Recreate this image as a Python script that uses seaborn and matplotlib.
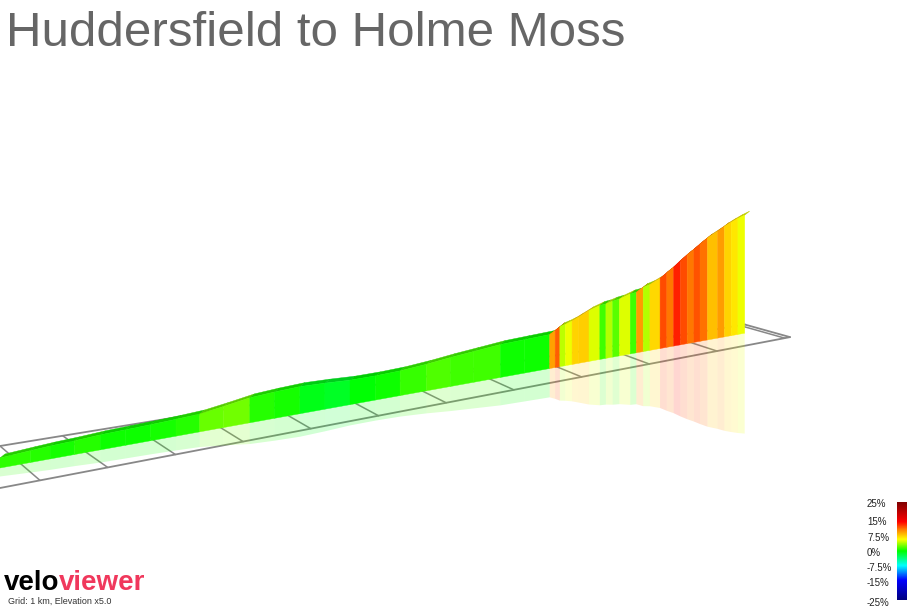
import numpy as np
import matplotlib
matplotlib.use("Agg")
import matplotlib.pyplot as plt
import seaborn as sns
from matplotlib.colors import LinearSegmentedColormap
from matplotlib.patches import Polygon

# data: distance (km) and elevation (m)
distance_km = [0.0, 0.45, 0.74, 1.1, 1.48, 1.85, 2.22, 2.6, 2.95, 3.3, 3.69, 4.05, 4.43, 4.8, 5.17,
               5.55, 5.91, 6.3, 6.65, 7.0, 7.39, 7.75, 8.12, 8.2, 8.27, 8.35, 8.45, 8.55, 8.7, 8.86,
               8.95, 9.05, 9.15, 9.31, 9.4, 9.5, 9.6, 9.75, 9.85, 9.95, 10.05, 10.15, 10.25, 10.34,
               10.45, 10.6, 10.7, 10.8, 10.9, 11.0]
elevation_m = [110, 117, 121, 124, 129, 131, 133, 136, 140, 152, 167, 172, 175, 171, 165,
               164, 166, 173, 182, 189, 197, 199, 201, 212, 224, 229, 237, 248, 265, 277,
               279, 285, 288, 300, 302, 316, 322, 338, 356, 372, 392, 410, 426, 442,
               460, 478, 492, 503, 513, 521]
cbar_labels = ["25%", "15%", "7.5%", "0%", "-7.5%", "-15%", "-25%"]

sns.set_theme(style="white")
plt.rcParams['font.family'] = ['Liberation Sans', 'DejaVu Sans']

cmap = LinearSegmentedColormap.from_list("grad", [
    (0.0, "#00007f"), (0.2, "#0000ff"), (0.35, "#00ffff"), (0.5, "#00ff00"),
    (0.62, "#ffff00"), (0.72, "#ff8000"), (0.8, "#ff0000"), (1.0, "#800000")])

fig = plt.figure(figsize=(9.07, 6.07), dpi=100)
ax = fig.add_axes([0, 0, 1, 1])
ax.set_xlim(0, 907)
ax.set_ylim(607, 0)
ax.axis("off")

PX_PER_KM = 67.7
def px(d):
    return d * PX_PER_KM
def base(x):
    return 468 - 0.181 * x
def height(e):
    return 10 + (e - 110) * 0.263

# grid plane
front = lambda x: 488 - 0.191 * x
back = lambda x: 446 - 0.163 * x
ax.plot([0, 790], [front(0), front(790)], color="#888888", lw=1.3, zorder=1)
ax.plot([0, 745], [back(0), back(745)], color="#888888", lw=1.3, zorder=1)
for k in range(0, 12):
    xb = k * PX_PER_KM - 5
    xf = xb + 45
    if xf < 0:
        continue
    ax.plot([max(xb, 0), xf], [back(max(xb, 0)), front(xf)], color="#888888", lw=1.1, zorder=1)
ax.plot([745, 790], [back(745), front(790)], color="#888888", lw=1.3, zorder=1)

# reflection and ribbon
d = np.array(distance_km)
e = np.array(elevation_m)
for i in range(len(d) - 1):
    x1, x2 = px(d[i]), px(d[i + 1])
    g = (e[i + 1] - e[i]) / ((d[i + 1] - d[i]) * 1000) * 100
    g = g * 0.7
    c = cmap(np.clip((g + 25) / 50, 0, 1))
    h1, h2 = height(e[i]), height(e[i + 1])
    b1, b2 = base(x1), base(x2)
    ax.add_patch(Polygon([(x1, b1), (x1, b1 + h1 * 0.85), (x2, b2 + h2 * 0.85), (x2, b2)],
                         closed=True, fc=c, ec="none", alpha=0.18, zorder=2))
    top_c = tuple(np.array(c[:3]) * 0.8)
    ax.add_patch(Polygon([(x1, b1 - h1), (x1 + 5, b1 - h1 - 4), (x2 + 5, b2 - h2 - 4), (x2, b2 - h2)],
                         closed=True, fc=top_c, ec=top_c, lw=0.3, zorder=3))
    ax.add_patch(Polygon([(x1, b1), (x1, b1 - h1), (x2, b2 - h2), (x2, b2)],
                         closed=True, fc=c, ec=c, lw=0.3, zorder=4))

# title
ax.text(6, 33, "Huddersfield to Holme Moss", fontsize=35.5, color="#666666", va="center", ha="left")

# logo
ax.text(4, 583, "velo", fontsize=20, fontweight="bold", color="black", va="center")
ax.text(59, 583, "viewer", fontsize=20, fontweight="bold", color="#f0385c", va="center")
ax.text(8, 601, "Grid: 1 km, Elevation x5.0", fontsize=6.5, color="#333333", va="center")

# colorbar
cax = fig.add_axes([897 / 907, 1 - 600 / 607, 10 / 907, 98 / 607])
cax.imshow(np.linspace(1, 0, 200).reshape(-1, 1), aspect="auto", cmap=cmap)
cax.axis("off")
ypos = [504, 522, 538, 553, 568, 583, 603]
for yv, lab in zip(ypos, cbar_labels):
    ax.text(867, yv, lab, fontsize=7, color="#222222", va="center", ha="left")

fig.savefig("out.png", dpi=100)
